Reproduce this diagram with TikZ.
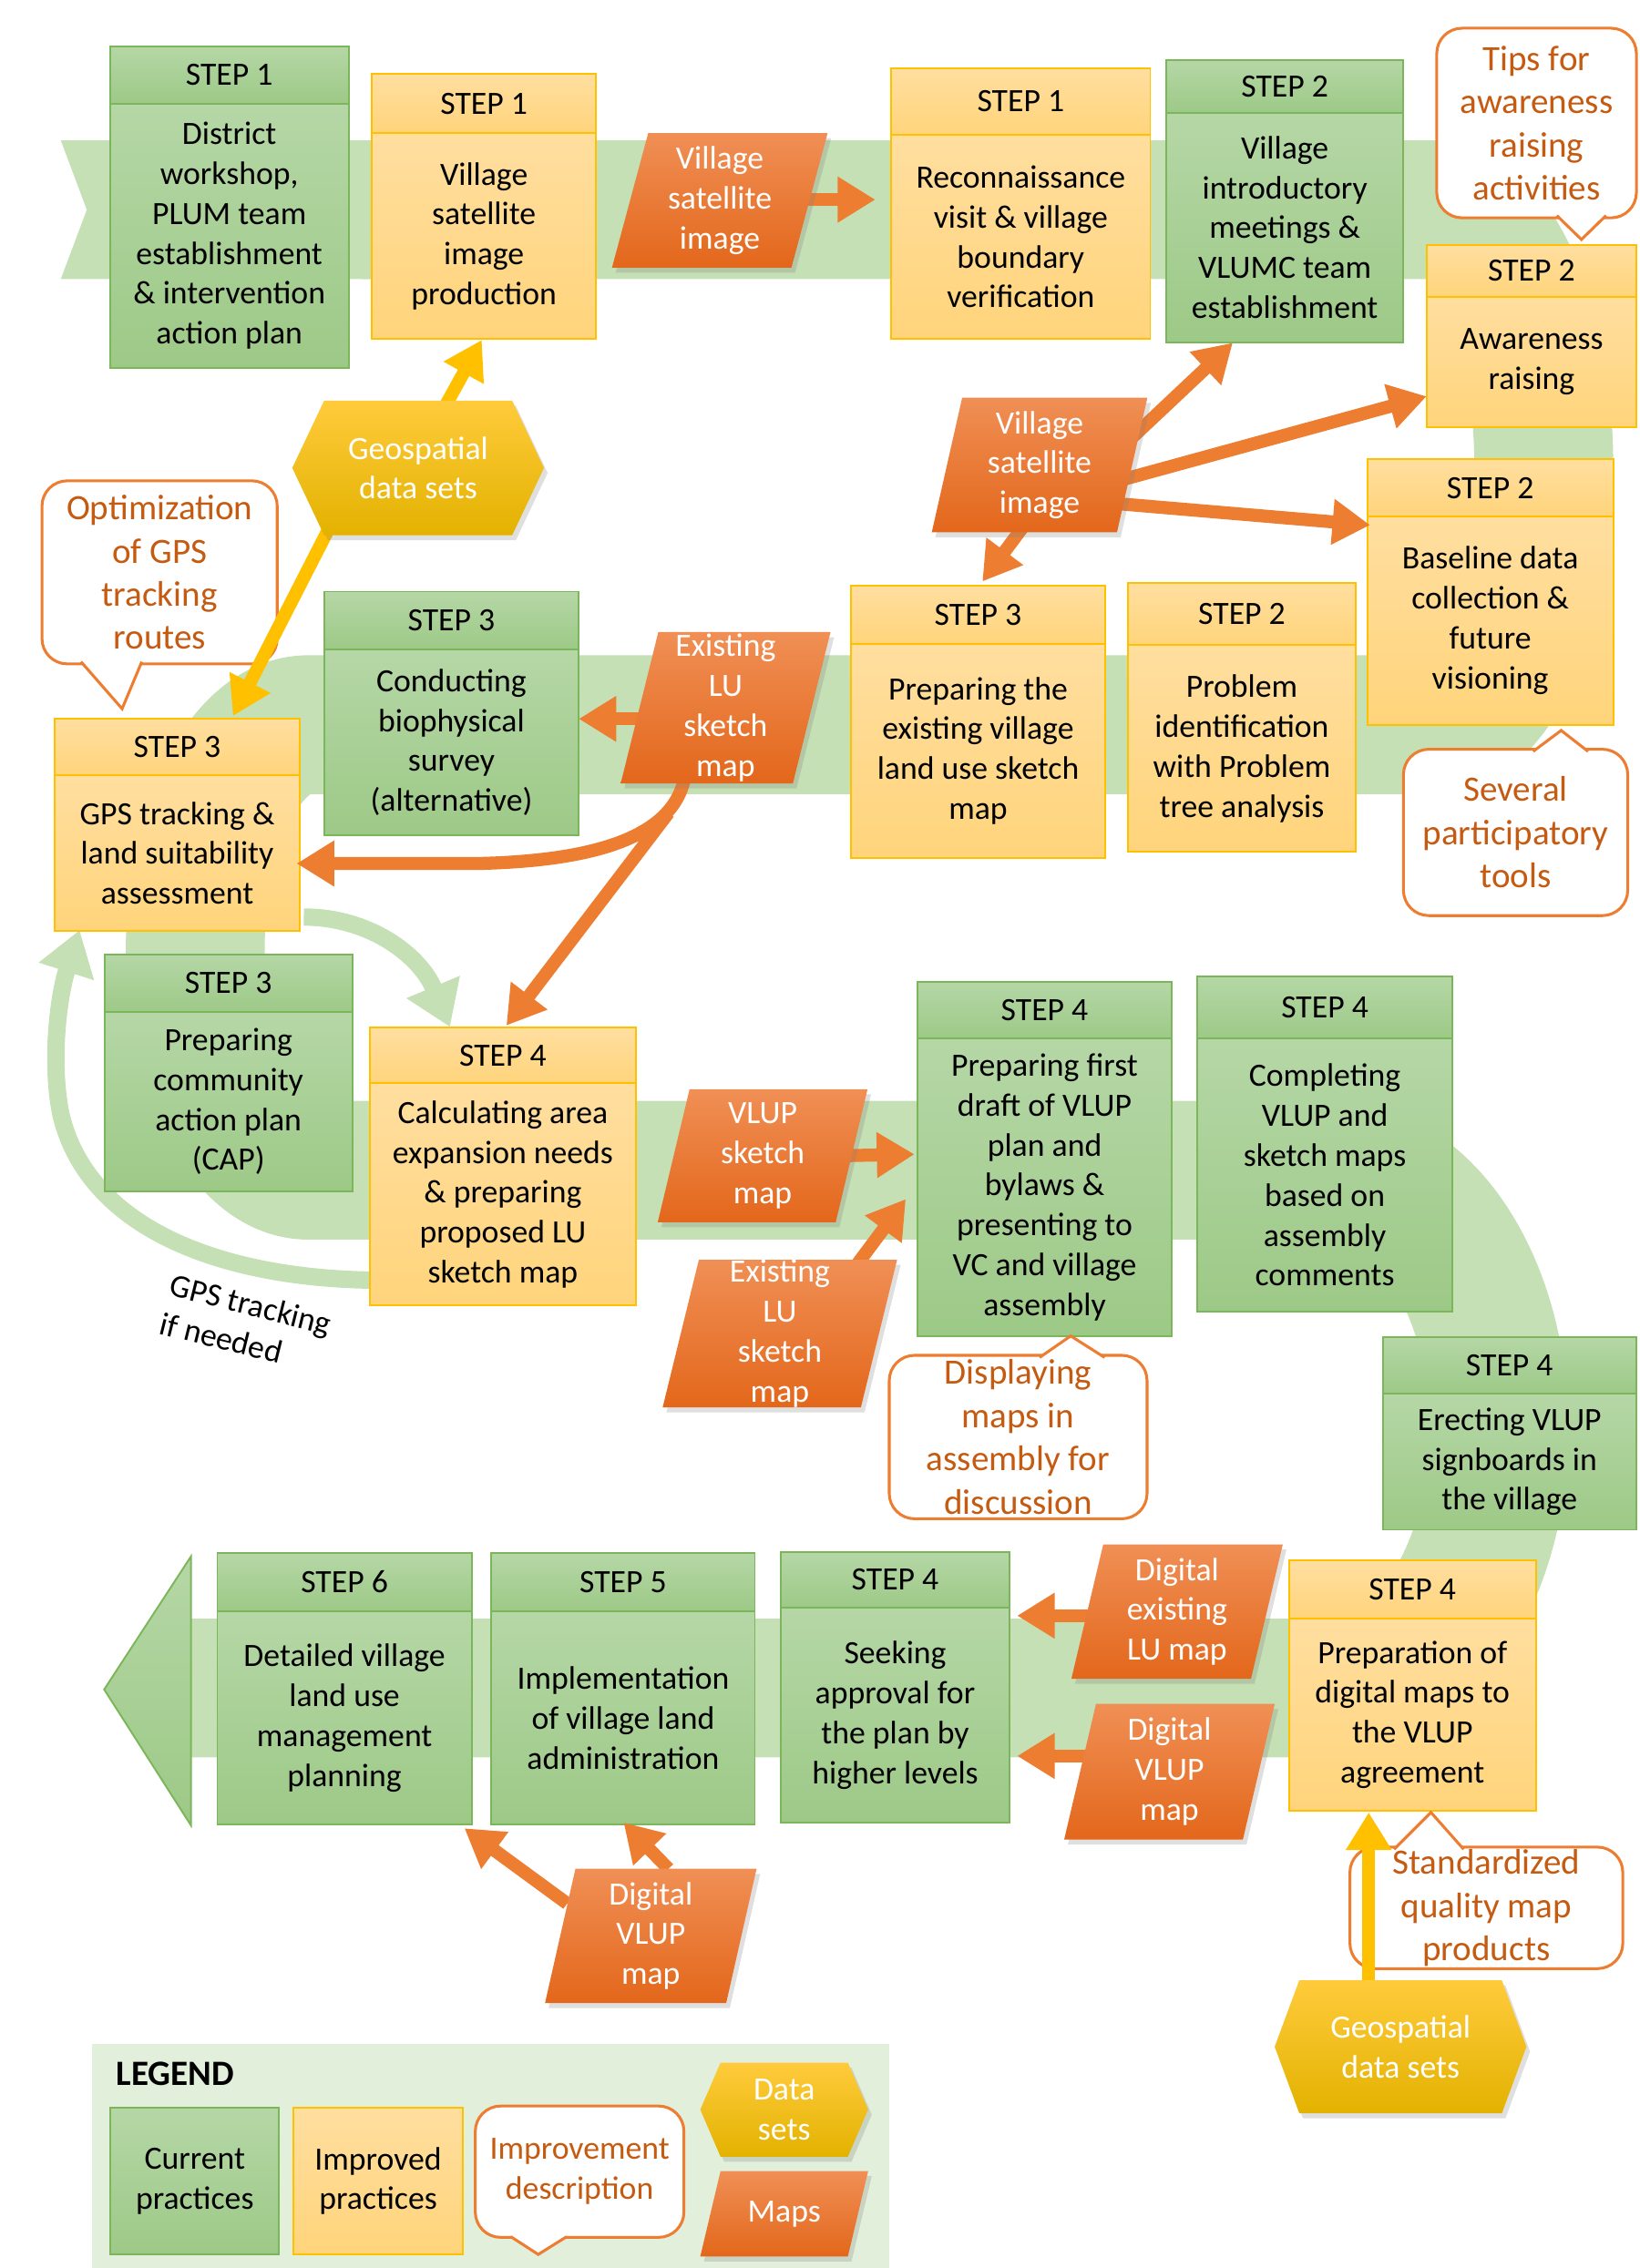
\documentclass[tikz,border=0pt]{standalone}
\usepackage{fontspec}
\setmainfont{Carlito}
\usetikzlibrary{arrows.meta,shadows}

\definecolor{bandc}{HTML}{C5E0B4}
\definecolor{gtop}{HTML}{B5D7A6}
\definecolor{gbot}{HTML}{9DC987}
\definecolor{gline}{HTML}{7CB65A}
\definecolor{ytop}{HTML}{FFDE9F}
\definecolor{ybot}{HTML}{FFD47B}
\definecolor{yline}{HTML}{FFC000}
\definecolor{otop}{HTML}{F08F55}
\definecolor{obot}{HTML}{E3671B}
\definecolor{oarr}{HTML}{ED7D31}
\definecolor{htop}{HTML}{FFCB3C}
\definecolor{hbot}{HTML}{E3B200}
\definecolor{ctext}{HTML}{C55A11}
\definecolor{legbg}{HTML}{E2EFDA}
\definecolor{yarr}{HTML}{FFC000}

\newcommand{\mainsz}{\fontsize{12.8}{15.7}\selectfont}
\newcommand{\callsz}{\fontsize{14}{17}\selectfont}

\newcommand{\stepnode}[9]{%
  \node[#2, anchor=north west, minimum width={(#5-#3)*0.02cm}, minimum height={(#6-#4)*0.02cm}] (#1h) at (#3,#4) {#8};
  \node[#2, anchor=north west, minimum width={(#5-#3)*0.02cm}, minimum height={(#7-#6)*0.02cm}] (#1) at (#3,#6) {#9};}

\newcommand{\mapnode}[7]{%
  \path[mapshape] (#2+#6,#3) -- (#4,#3) -- (#4-#6,#5) -- (#2,#5) -- cycle;
  \node[maptext] (#1) at ({(#2+#4)/2},{(#3+#5)/2}) {#7};}

\newcommand{\hexnode}[7]{%
  \path[hexshape] (#2,{(#3+#5)/2}) -- (#2+#6,#3) -- (#4-#6,#3) -- (#4,{(#3+#5)/2}) -- (#4-#6,#5) -- (#2+#6,#5) -- cycle;
  \node[hextext] (#1) at ({(#2+#4)/2},{(#3+#5)/2}) {#7};}

\newcommand{\callnode}[9]{%
  \draw[callbox] (#2,#3) rectangle (#4,#5);
  \fill[white] #6 -- #7 -- #8 -- cycle;
  \draw[callline] #6 -- #7 -- #8;
  \node[calltext] (#1) at ({(#2+#4)/2},{(#3+#5)/2}) {#9};}

\tikzset{
 gbox/.style={draw=gline, line width=0.7pt, top color=gtop, bottom color=gbot, inner sep=0pt, outer sep=0pt, align=center, font=\mainsz, text=black},
 ybox/.style={draw=yline, line width=0.7pt, top color=ytop, bottom color=ybot, inner sep=0pt, outer sep=0pt, align=center, font=\mainsz, text=black},
 mapshape/.style={top color=otop, bottom color=obot, drop shadow={shadow xshift=0.05cm, shadow yshift=-0.07cm, opacity=0.25}},
 maptext/.style={text=white, align=center, font=\mainsz, inner sep=0pt},
 hexshape/.style={top color=htop, bottom color=hbot, drop shadow={shadow xshift=0.05cm, shadow yshift=-0.07cm, opacity=0.25}},
 hextext/.style={text=white, align=center, font=\mainsz, inner sep=0pt},
 callbox/.style={draw=oarr, line width=1.1pt, fill=white, rounded corners=0.35cm},
 callline/.style={draw=oarr, line width=1.1pt},
 calltext/.style={text=ctext, align=center, font=\callsz, inner sep=0pt},
 oarrow/.style={draw=oarr, line width=0.18cm, -{Triangle[length=0.52cm,width=0.6cm]}},
 yarrow/.style={draw=yarr, line width=0.18cm, -{Triangle[length=0.52cm,width=0.6cm]}},
 garrow/.style={draw=bandc, line width=0.24cm, -{Triangle[length=0.6cm,width=0.76cm]}},
}

\begin{document}
\begin{tikzpicture}[x=0.02cm, y=-0.02cm]
\useasboundingbox (0,0) rectangle (1133,1568);

% ---------- main band ----------
\fill[bandc] (42,97) -- (260,97) -- (260,193) -- (42,193) -- (60,145) -- cycle;
\draw[bandc, line width=1.92cm] (250,145) -- (991,145)
  .. controls (1033,145) and (1067,224.7) .. (1067,323)
  .. controls (1067,421.3) and (1033,501) .. (991,501) -- (213,501)
  .. controls (170,501) and (135,570) .. (135,655)
  .. controls (135,740) and (170,809) .. (213,809) -- (920,809)
  .. controls (984,809) and (1036,889.1) .. (1036,988)
  .. controls (1036,1086.9) and (984,1167) .. (920,1167) -- (132,1167);
\path[top color=gtop, bottom color=gbot, draw=gline, line width=0.7pt] (132,1076) -- (72,1168) -- (132,1262) -- cycle;

% ---------- light green loop arrows ----------
\coordinate (g1s) at (210,634); \coordinate (g1e) at (311,710);
\draw[garrow] (g1s) .. controls (255,634) and (290,660) .. (g1e);
\coordinate (g2s) at (255,885); \coordinate (g2e) at (55,643);
\draw[garrow] (g2s) .. controls (150,883) and (60,848) .. (42,770) .. controls (35,735) and (40,690) .. (g2e);

% ---------- step boxes ----------
\stepnode{s1}{gbox}{76}{32}{241}{71.5}{254.5}{STEP 1}{District\\workshop,\\PLUM team\\establishment\\\& intervention\\action plan}
\stepnode{s2}{ybox}{257}{51}{412}{92}{234.5}{STEP 1}{Village\\satellite\\image\\production}
\stepnode{s3}{ybox}{616}{47.3}{795}{93}{234.5}{STEP 1}{Reconnaissance\\visit \& village\\boundary\\verification}
\stepnode{s4}{gbox}{806}{41.3}{970}{78}{236.5}{STEP 2}{Village\\introductory\\meetings \&\\VLUMC team\\establishment}
\stepnode{s5}{ybox}{986}{169.3}{1131}{205}{295.5}{STEP 2}{Awareness\\raising}
\stepnode{s6}{ybox}{945}{317.5}{1115}{357}{501}{STEP 2}{Baseline data\\collection \&\\future\\visioning}
\stepnode{s7}{ybox}{779.6}{403}{937}{446}{589}{STEP 2}{Problem\\identification\\with Problem\\tree analysis}
\stepnode{s8}{ybox}{588}{405}{764}{445}{593}{STEP 3}{Preparing the\\existing village\\land use sketch\\map}
\stepnode{s9}{gbox}{224}{409}{400}{449}{577.6}{STEP 3}{Conducting\\biophysical\\survey\\(alternative)}
\stepnode{s10}{ybox}{38}{497}{207}{536}{643.6}{STEP 3}{GPS tracking \&\\land suitability\\assessment}
\stepnode{s11}{gbox}{72.3}{659.7}{243.4}{699.7}{823.5}{STEP 3}{Preparing\\community\\action plan\\(CAP)}
\stepnode{s12}{ybox}{255.4}{710.4}{439.7}{749}{902.6}{STEP 4}{Calculating area\\expansion needs\\\& preparing\\proposed LU\\sketch map}
\stepnode{s13}{gbox}{634}{679}{810}{718}{923.6}{STEP 4}{Preparing first\\draft of VLUP\\plan and\\bylaws \&\\presenting to\\VC and village\\assembly}
\stepnode{s14}{gbox}{827.5}{675}{1003.8}{718}{906.8}{STEP 4}{Completing\\VLUP and\\sketch maps\\based on\\assembly\\comments}
\stepnode{s15}{gbox}{955.6}{924.4}{1131}{963.5}{1057.6}{STEP 4}{Erecting VLUP\\signboards in\\the village}
\stepnode{s16}{ybox}{891}{1078.7}{1061.4}{1119}{1252}{STEP 4}{Preparation of\\digital maps to\\the VLUP\\agreement}
\stepnode{s17}{gbox}{539.4}{1072.8}{698}{1111.5}{1260}{STEP 4}{Seeking\\approval for\\the plan by\\higher levels}
\stepnode{s18}{gbox}{339.7}{1073.7}{521.7}{1114}{1261.6}{STEP 5}{Implementation\\of village land\\administration}
\stepnode{s19}{gbox}{150.2}{1073.7}{326}{1114}{1261.6}{STEP 6}{Detailed village\\land use\\management\\planning}

% ---------- callouts ----------
\callnode{c1}{993}{19.5}{1131}{150.6}{(1076,149)}{(1093,165.6)}{(1110,149)}{Tips for\\awareness\\raising\\activities}
\callnode{c2}{29}{332.4}{191.6}{459}{(56,457.5)}{(84.4,490)}{(98,457.5)}{Optimization\\of GPS\\tracking\\routes}
\callnode{c3}{970}{518}{1125}{633}{(1059.6,519.5)}{(1079,505)}{(1097.6,519.5)}{Several\\participatory\\tools}
\callnode{c4}{614.6}{937}{792.8}{1050}{(718.5,938.5)}{(740,923.6)}{(763.5,938.5)}{Displaying\\maps in\\assembly for\\discussion}
\callnode{c5}{933}{1277}{1121.6}{1361}{(963.5,1278.5)}{(989,1253)}{(1011.6,1278.5)}{Standardized\\quality map\\products}

% ---------- arrows ----------
\coordinate (a1s) at (556,138); \coordinate (a1e) at (605,138);
\coordinate (a2s) at (783,302); \coordinate (a2e) at (852,237);
\coordinate (a3s) at (778,331); \coordinate (a3e) at (986,274);
\coordinate (a4s) at (770,348); \coordinate (a4e) at (947,363);
\coordinate (a5s) at (708,363); \coordinate (a5e) at (679,402);
\coordinate (a6s) at (447,497); \coordinate (a6e) at (400,497);
\coordinate (a7s) at (474,532); \coordinate (a7e) at (205,597);
\coordinate (a8s) at (462,562); \coordinate (a8e) at (350,709);
\coordinate (a9s) at (582,799); \coordinate (a9e) at (632,798);
\coordinate (a10s) at (588,880); \coordinate (a10e) at (626,829);
\coordinate (a11s) at (760,1117); \coordinate (a11e) at (703,1117);
\coordinate (a12s) at (752,1214); \coordinate (a12e) at (703,1214);
\coordinate (a13s) at (392,1316); \coordinate (a13e) at (321,1264);
\coordinate (a14s) at (462,1292); \coordinate (a14e) at (431,1260);
\coordinate (y1s) at (307,282); \coordinate (y1e) at (333,235);
\coordinate (y2s) at (226,368); \coordinate (y2e) at (161,495);
\coordinate (y3s) at (946,1370); \coordinate (y3e) at (946,1253);

\draw[oarrow] (a1s) -- (a1e);
\draw[oarrow] (a2s) -- (a2e);
\draw[oarrow] (a3s) -- (a3e);
\draw[oarrow] (a4s) -- (a4e);
\draw[oarrow] (a5s) -- (a5e);
\draw[oarrow] (a6s) -- (a6e);
\draw[oarrow] (a7s) .. controls (470,575) and (420,595) .. (330,597) -- (a7e);
\draw[oarrow] (a8s) -- (a8e);
\draw[oarrow] (a9s) -- (a9e);
\draw[oarrow] (a10s) -- (a10e);
\draw[oarrow] (a11s) -- (a11e);
\draw[oarrow] (a12s) -- (a12e);
\draw[oarrow] (a13s) -- (a13e);
\draw[oarrow] (a14s) -- (a14e);
\draw[yarrow] (y1s) -- (y1e);
\draw[yarrow] (y2s) -- (y2e);
\draw[yarrow] (y3s) -- (y3e);

% ---------- maps (parallelograms) ----------
\mapnode{m1}{423}{92}{572}{185}{25}{Village\\satellite\\image}
\mapnode{m2}{644}{275}{793}{368}{21}{Village\\satellite\\image}
\mapnode{m3}{429}{437}{574}{541.6}{26}{Existing\\LU\\sketch\\map}
\mapnode{m4}{454.6}{753}{599.6}{845}{22}{VLUP\\sketch\\map}
\mapnode{m5}{458}{871}{620}{973}{25}{Existing\\LU\\sketch\\map}
\mapnode{m6}{740.5}{1067.7}{886.6}{1160.6}{22}{Digital\\existing\\LU map}
\mapnode{m7}{735.5}{1178}{881}{1271.8}{22}{Digital\\VLUP\\map}
\mapnode{m8}{376.7}{1292}{522.9}{1384.8}{21}{Digital\\VLUP\\map}

% ---------- data sets (hexagons) ----------
\hexnode{d1}{202}{277}{376}{370}{22}{Geospatial\\data sets}
\hexnode{d2}{881}{1369}{1055}{1461}{17}{Geospatial\\data sets}

% ---------- free label ----------
\node[font=\mainsz, align=left, rotate=-14, inner sep=0pt] (gpsl) at (170,915) {GPS tracking\\if needed};

% ---------- legend ----------
\fill[legbg] (63.5,1412.8) rectangle (614.5,1568);
\node[font=\fontsize{14}{17}\selectfont\bfseries, anchor=west, inner sep=0pt] (legt) at (80,1434) {LEGEND};
\node[gbox, anchor=north west, minimum width={116.4*0.02cm}, minimum height={101.6*0.02cm}] (lg1) at (76.4,1457) {Current\\practices};
\node[ybox, anchor=north west, minimum width={116.7*0.02cm}, minimum height={101.6*0.02cm}] (lg2) at (203,1457) {Improved\\practices};
\draw[callbox] (328.5,1456) rectangle (472.7,1546.8);
\fill[white] (353,1545.3) -- (372,1558.6) -- (391.7,1545.3) -- cycle;
\draw[callline] (353,1546.3) -- (372,1558.6) -- (391.7,1546.3);
\node[calltext, font=\mainsz] (lg3) at (400.6,1501.4) {Improvement\\description};
\hexnode{lg4}{484}{1426}{600}{1491}{14}{Data\\sets}
\mapnode{lg5}{484}{1501}{600}{1560}{14}{Maps}

\end{tikzpicture}
\end{document}
